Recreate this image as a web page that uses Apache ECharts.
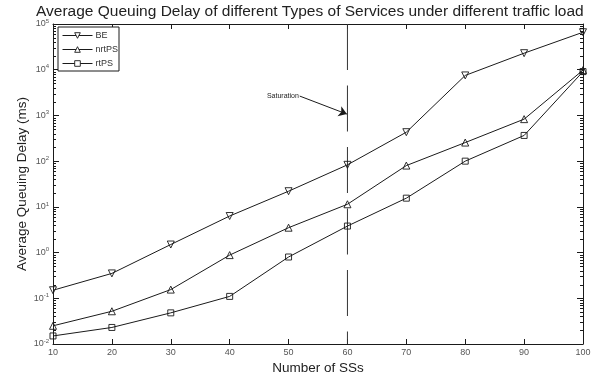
<!DOCTYPE html>
<html>
<head>
<meta charset="utf-8">
<script src="https://cdn.jsdelivr.net/npm/echarts@6/dist/echarts.min.js"></script>
<style>
  html, body { margin: 0; padding: 0; background: #fff; }
  #chart { width: 606px; height: 381px; }
</style>
</head>
<body>
<div id="chart"></div>
<script>
// Number of subscriber stations
const ssCounts = [10, 20, 30, 40, 50, 60, 70, 80, 90, 100];
// Average queuing delay (ms) per service class
const beDelay    = [0.15, 0.35, 1.5, 6.3, 22, 83, 430, 7500, 23000, 66000];
const nrtpsDelay = [0.025, 0.052, 0.155, 0.88, 3.5, 11.4, 80, 255, 830, 9800];
const rtpsDelay  = [0.015, 0.023, 0.048, 0.11, 0.8, 3.8, 15.5, 100, 365, 9100];
const seriesNames = ['BE', 'nrtPS', 'rtPS'];
// Saturation marker
const saturationX = 60;
const yRange = [0.01, 100000];

// log minor tick values (2..9 x 10^k)
const minorTickValues = [];
for (let e = -2; e < 5; e++) {
  for (let m = 2; m <= 9; m++) minorTickValues.push([ssCounts[0], m * Math.pow(10, e)]);
}

const font = 'Liberation Sans, Arial, sans-serif';
const ink = '#1a1a1a';
const labelGray = '#555';

function pairs(values) { return ssCounts.map((x, i) => [x, values[i]]); }

const chart = echarts.init(document.getElementById('chart'), null, { renderer: 'canvas' });

const lineCommon = {
  type: 'line',
  symbolSize: 7,
  lineStyle: { color: ink, width: 1 },
  itemStyle: { color: 'rgba(255,255,255,0)', borderColor: ink, borderWidth: 0.9 },
  emphasis: { disabled: true },
  animation: false,
  z: 3
};

chart.setOption({
  animation: false,
  textStyle: { fontFamily: font },
  title: {
    text: 'Average Queuing Delay of different Types of Services under different traffic load',
    left: 31,
    top: -1,
    textStyle: { fontSize: 15.5, fontWeight: 'normal', color: '#222', fontFamily: font }
  },
  legend: {
    data: seriesNames,
    orient: 'vertical',
    left: 58,
    top: 27,
    padding: [4, 1, 3, 4],
    itemGap: 5,
    itemWidth: 30,
    itemHeight: 7,
    backgroundColor: '#fff',
    borderColor: ink,
    borderWidth: 1,
    borderRadius: 0,
    itemStyle: { color: '#fff', borderColor: ink, borderWidth: 0.9 },
    lineStyle: { color: ink, width: 1 },
    textStyle: { fontSize: 9, color: '#333', fontFamily: font, padding: [0, 0, 0, -2] }
  },
  grid: { left: 53, right: 23, top: 24, bottom: 37 },
  xAxis: [{
    type: 'value',
    min: 10, max: 100, interval: 10,
    name: 'Number of SSs',
    nameLocation: 'middle',
    nameGap: 17,
    nameMoveOverlap: false,
    nameTextStyle: { fontSize: 13.5, color: '#222', fontFamily: font },
    axisLine: { lineStyle: { color: ink, width: 1 } },
    axisTick: { inside: true, length: 5, lineStyle: { color: ink } },
    axisLabel: { fontSize: 9, color: labelGray, margin: 4, fontFamily: font },
    splitLine: { show: false }
  }, {
    type: 'value',
    position: 'top',
    min: 10, max: 100, interval: 10,
    axisLine: { show: true, lineStyle: { color: ink, width: 1 } },
    axisTick: { inside: true, length: 5, lineStyle: { color: ink } },
    axisLabel: { show: false },
    splitLine: { show: false }
  }],
  yAxis: [{
    type: 'log',
    logBase: 10,
    min: yRange[0], max: yRange[1],
    name: 'Average Queuing Delay (ms)',
    nameLocation: 'middle',
    nameGap: 24,
    nameMoveOverlap: false,
    nameTextStyle: { fontSize: 13.5, color: '#222', fontFamily: font },
    axisLine: { show: true, lineStyle: { color: ink, width: 1 } },
    axisTick: { inside: true, length: 6, lineStyle: { color: ink } },
    axisLabel: {
      fontSize: 9, color: labelGray, margin: 4, fontFamily: font,
      formatter: v => '10{s|' + Math.round(Math.log10(v)) + '}',
      rich: { s: { fontSize: 6, color: labelGray, verticalAlign: 'top', padding: [0, 0, 6, 0] } }
    },
    splitLine: { show: false }
  }, {
    type: 'log',
    logBase: 10,
    position: 'right',
    min: yRange[0], max: yRange[1],
    axisLine: { show: true, lineStyle: { color: ink, width: 1 } },
    axisTick: { inside: true, length: 6, lineStyle: { color: ink } },
    axisLabel: { show: false },
    splitLine: { show: false }
  }],
  series: [
    Object.assign({}, lineCommon, {
      name: 'BE', data: pairs(beDelay),
      symbol: 'triangle', symbolRotate: 180
    }),
    Object.assign({}, lineCommon, {
      name: 'nrtPS', data: pairs(nrtpsDelay),
      symbol: 'triangle'
    }),
    Object.assign({}, lineCommon, {
      name: 'rtPS', data: pairs(rtpsDelay),
      symbol: 'rect', symbolSize: 6
    }),
    {
      // saturation boundary with annotation arrow
      type: 'line',
      name: 'saturation',
      data: [[saturationX, yRange[1]], [saturationX, yRange[0]]],
      symbol: 'none',
      lineStyle: { color: '#333', width: 1, type: [46, 15.5] },
      silent: true,
      z: 2,
      markLine: {
        silent: true,
        symbol: ['none', 'arrow'],
        symbolSize: 8,
        lineStyle: { color: ink, width: 1, type: 'solid' },
        itemStyle: { color: ink },
        label: {
          show: true, position: 'start', formatter: 'Saturation',
          fontSize: 7, color: '#222', fontFamily: font, distance: 1
        },
        data: [[{ coord: [51.9, 2650] }, { coord: [59.9, 1070] }]]
      }
    },
    {
      // minor ticks of the log axis on both sides of the frame
      type: 'custom',
      silent: true,
      data: minorTickValues,
      clip: false,
      renderItem: function (params, api) {
        const v = api.value(1);
        const l = api.coord([10, v]);
        const r = api.coord([100, v]);
        const style = { stroke: ink, lineWidth: 1 };
        return {
          type: 'group',
          children: [
            { type: 'line', shape: { x1: l[0], y1: Math.round(l[1]) + 0.5, x2: l[0] + 3, y2: Math.round(l[1]) + 0.5 }, style },
            { type: 'line', shape: { x1: r[0] - 3, y1: Math.round(r[1]) + 0.5, x2: r[0], y2: Math.round(r[1]) + 0.5 }, style }
          ]
        };
      }
    }
  ]
});
</script>
</body>
</html>
